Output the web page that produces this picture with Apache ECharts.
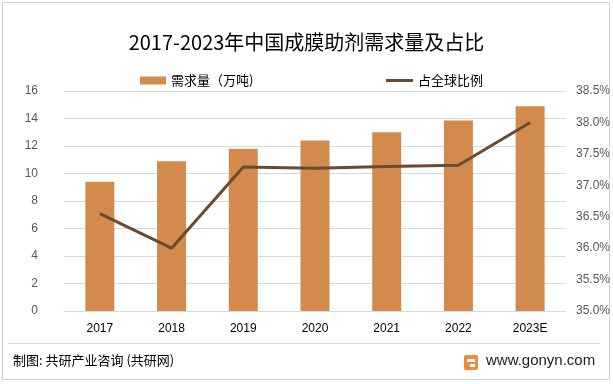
<!DOCTYPE html>
<html><head><meta charset="utf-8">
<script src="https://cdn.jsdelivr.net/npm/echarts@6/dist/echarts.min.js"></script>
<style>html,body{margin:0;padding:0;background:#fff}#c{width:613px;height:384px}</style>
</head><body><div id="c"></div>
<script>
var categories = ['2017','2018','2019','2020','2021','2022','2023E'];
var demand = [9.4, 10.9, 11.8, 12.4, 13.0, 13.85, 14.9];
var share = [36.55, 36.0, 37.29, 37.27, 37.3, 37.32, 38.0];
var leftTicks = {min: 0, max: 16, interval: 2};
var rightTicks = {min: 35, max: 38.5, interval: 0.5};

var chart = echarts.init(document.getElementById('c'), null, {renderer: 'canvas'});
var cjk = '"Noto Sans CJK SC", "Noto Sans", sans-serif';
chart.setOption({
  animation: false,
  backgroundColor: '#fff',
  title: {
    text: '2017-2023年中国成膜助剂需求量及占比',
    left: 'center', top: 27,
    textStyle: {fontFamily: cjk, fontSize: 20, fontWeight: 'normal', color: '#000'}
  },
  legend: [
    {top: 69, left: 135, itemWidth: 26, itemHeight: 8,
     textStyle: {fontFamily: cjk, fontSize: 13, color: '#000'},
     data: [{name: '需求量（万吨)', icon: 'rect'}]},
    {top: 69, left: 381, itemWidth: 27, itemHeight: 3, itemGap: 4,
     textStyle: {fontFamily: cjk, fontSize: 13, color: '#000'},
     data: [{name: '占全球比例', icon: 'rect'}]}
  ],
  grid: {left: 64, right: 47, top: 91, bottom: 73},
  xAxis: {
    type: 'category', data: categories,
    axisLine: {lineStyle: {color: '#d9d9d9'}},
    axisTick: {show: false},
    axisLabel: {color: '#000', fontSize: 12, fontFamily: '"Liberation Sans", sans-serif', margin: 12}
  },
  yAxis: [
    {type: 'value', min: leftTicks.min, max: leftTicks.max, interval: leftTicks.interval,
     axisLine: {show: false}, axisTick: {show: false},
     splitLine: {lineStyle: {color: '#d9d9d9'}},
     axisLabel: {color: '#595959', fontSize: 12, fontFamily: '"Liberation Sans", sans-serif', margin: 26}},
    {type: 'value', min: rightTicks.min, max: rightTicks.max, interval: rightTicks.interval,
     axisLine: {show: false}, axisTick: {show: false}, splitLine: {show: false},
     axisLabel: {color: '#595959', fontSize: 12, fontFamily: '"Liberation Sans", sans-serif', margin: 10,
       formatter: function(v){return v.toFixed(1) + '%';}}}
  ],
  series: [
    {name: '需求量（万吨)', type: 'bar', data: demand, barWidth: 29,
     itemStyle: {color: '#D38B4D'}},
    {name: '占全球比例', type: 'line', yAxisIndex: 1, data: share,
     symbol: 'none', lineStyle: {color: '#6A4A30', width: 3},
     itemStyle: {color: '#6A4A30'}}
  ],
  graphic: [
    {type: 'rect', shape: {x: 2.5, y: 2.5, width: 607, height: 377},
     style: {fill: null, stroke: '#d0d0d0', lineWidth: 1}, silent: true},
    {type: 'line', shape: {x1: 8, y1: 343.5, x2: 600, y2: 343.5},
     style: {stroke: '#d9d9d9', lineWidth: 1}},
    {type: 'text', left: 13, top: 354,
     style: {text: '制图: 共研产业咨询 (共研网)', fontFamily: cjk, fontSize: 13, fill: '#000'}},
    {type: 'rect', shape: {x: 464, y: 355, width: 14, height: 15, r: 2},
     style: {fill: '#F08A3C'}},
    {type: 'rect', shape: {x: 467, y: 359, width: 8, height: 3},
     style: {fill: '#fff'}},
    {type: 'rect', shape: {x: 470, y: 364, width: 5, height: 3},
     style: {fill: '#fff'}},
    {type: 'text', left: 486, top: 353,
     style: {text: 'www.gonyn.com', fontFamily: '"Liberation Sans", sans-serif', fontSize: 15, fill: '#222'}}
  ]
});
</script></body></html>
